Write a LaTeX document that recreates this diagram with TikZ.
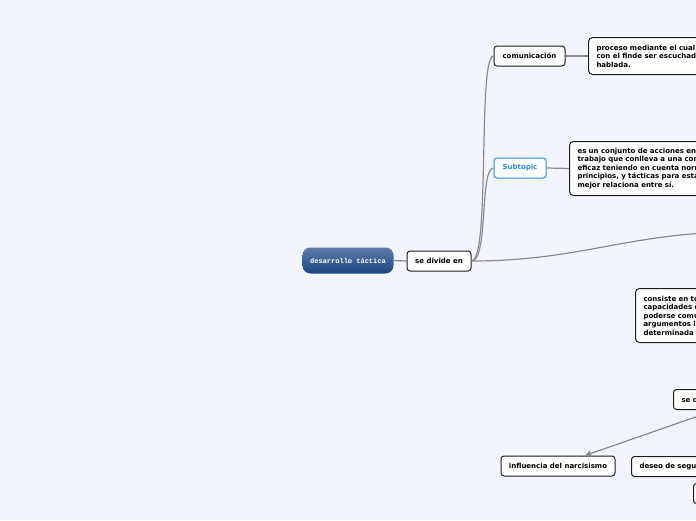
\documentclass[tikz,border=0pt]{standalone}
\usepackage{fontspec}
\setmainfont{DejaVu Sans}
\newfontfamily\rootfont{Liberation Mono}
\usetikzlibrary{arrows.meta}
\definecolor{bgc}{HTML}{F2F5FE}
\definecolor{linec}{HTML}{8A8A8A}
\definecolor{bordc}{HTML}{1E1E1E}
\definecolor{subc}{HTML}{2F8AE6}
\definecolor{roottop}{HTML}{5B7CAA}
\definecolor{rootbot}{HTML}{1C477E}
\tikzset{
  conn/.style={draw=linec, line width=1.2pt},
  topicbox/.style={draw=bordc, fill=white, rounded corners=3pt, line width=1pt,
    font=\fontsize{7pt}{8.5pt}\selectfont\bfseries, inner sep=0pt, align=center},
  notebox/.style={draw=bordc, fill=white, rounded corners=4pt, line width=1pt,
    font=\fontsize{7pt}{8.5pt}\selectfont\bfseries, anchor=north west,
    inner xsep=8pt, inner ysep=0pt, align=left, text width=200pt},
  subbox/.style={topicbox, draw=subc, text=subc},
  rootbox/.style={rounded corners=8pt, top color=roottop, bottom color=rootbot,
    draw=none, text=white, font=\fontsize{7pt}{8pt}\selectfont\rootfont\bfseries,
    minimum width=91pt, minimum height=26pt, inner sep=0pt}
}
\begin{document}
\begin{tikzpicture}[x=1pt,y=-1pt]
\useasboundingbox (0,0) rectangle (696,520);
\clip (0,0) rectangle (696,520);
\fill[bgc] (0,0) rectangle (696,520);

% nodes
\node[rootbox] (root) at (348,260.5) {desarrollo táctica};
\node[topicbox, minimum width=64pt, minimum height=20pt] (div) at (439,261) {se divide en};
\node[topicbox, minimum width=71pt, minimum height=20pt] (com) at (529.5,56) {comunicación};
\node[subbox, minimum width=52pt, minimum height=20pt] (sub) at (520,168) {Subtopic};
\node[notebox, minimum height=37pt] (proc) at (588,37) {proceso mediante el cual\\con el finde ser escuchad\\hablada.};
\node[notebox, minimum height=54pt] (conj) at (569,141) {es un conjunto de acciones en\\trabajo que conlleva a una con\\eficaz teniendo en cuenta norm\\principios, y tácticas para esta\\mejor relaciona entre sí.};
\node[notebox, minimum height=54pt] (cons) at (635,288) {consiste en to\\capacidades d\\poderse comu\\argumentos l\\determinada};
\node[topicbox, anchor=north west, minimum width=80pt, minimum height=20pt, align=left, inner xsep=8pt, text width=64pt] (sed) at (673,389) {se d};
\node[topicbox, minimum width=114pt, minimum height=20pt] (infl) at (558,466) {influencia del narcisismo};
\node[topicbox, anchor=north west, minimum width=100pt, minimum height=20pt, align=left, inner xsep=8pt, text width=84pt] (des) at (631,456) {deseo de segu};
\node[topicbox, anchor=north west, minimum width=40pt, minimum height=20pt] (sm) at (693,483) {};

% off-picture coordinates
\coordinate (offA) at (740,232);
\coordinate (offB) at (730,405);

% connectors
\draw[conn] (root.east) -- (div.west);
\draw[conn] (div.east) .. controls +(19,0) and +(-16,0) .. (com.west);
\draw[conn] (div.east) .. controls +(17,0) and +(-14,0) .. (sub.west);
\draw[conn] (div.east) .. controls +(110,0) and +(-110,0) .. (offA);
\draw[conn] (com.east) -- (proc.west);
\draw[conn] (sub.east) -- (conj.west);
\draw[conn, -{Triangle[length=6pt,width=6pt]}] (offB) -- ([xshift=27pt]infl.north);
\end{tikzpicture}
\end{document}
